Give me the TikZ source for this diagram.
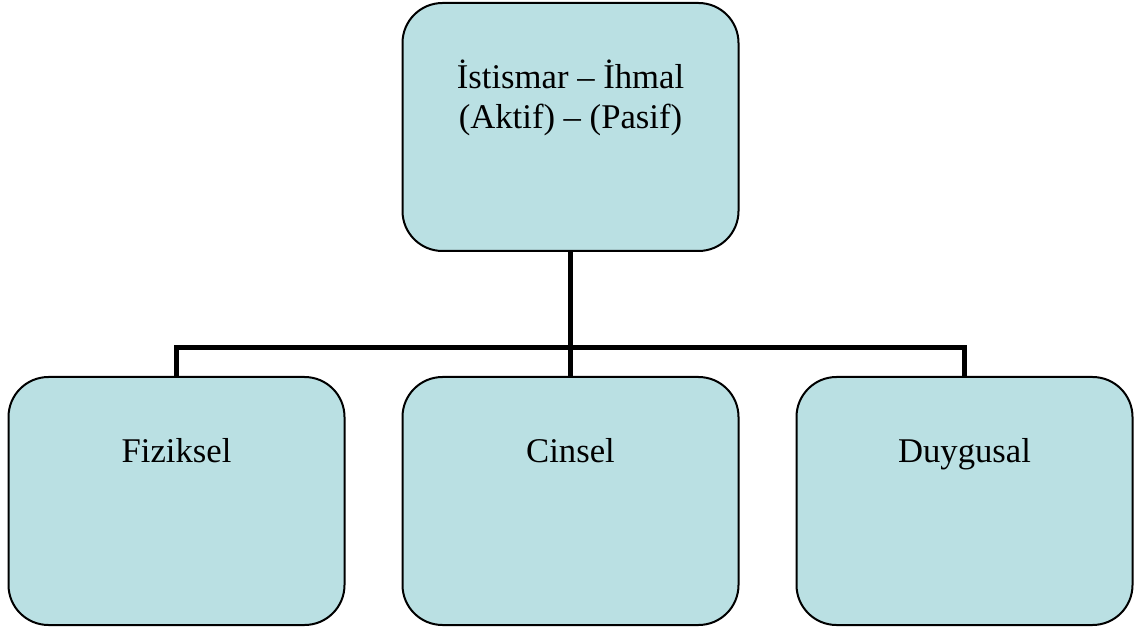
\documentclass[tikz,border=0pt]{standalone}
\usepackage{fontspec}
\setmainfont{Liberation Serif}
\usepackage{tikz}
\usetikzlibrary{positioning}
\definecolor{boxfill}{HTML}{BAE0E3}

\begin{document}
\begin{tikzpicture}[x=0.75pt, y=-0.75pt, box/.style={draw, fill=boxfill, rounded corners=30pt, line width=1.5pt, align=center, inner sep=0pt, minimum width=252pt, minimum height=186pt, text height=64pt, text depth=122pt, font=\fontsize{26}{30}\selectfont}, link/.style={draw, line width=3.75pt}]
    \useasboundingbox (0,0) rectangle (1134,630);
    % nodes
    \node[box, text height=94pt, text depth=92pt] (top) at (570.5,127) {İstismar – İhmal\\(Aktif) – (Pasif)};
    \node[box] (cinsel) [below=93pt of top] {Cinsel};
    \node[box] (fiziksel) [left=42pt of cinsel] {Fiziksel};
    \node[box] (duygusal) [right=42pt of cinsel] {Duygusal};
    \coordinate (split) at (570.5,348);

    % lines
    \draw[link] (top.south) -- (split);
    \draw[link] (split) -| (fiziksel.north);
    \draw[link] (split) -- (cinsel.north);
    \draw[link] (split) -| (duygusal.north);
\end{tikzpicture}
\end{document}
